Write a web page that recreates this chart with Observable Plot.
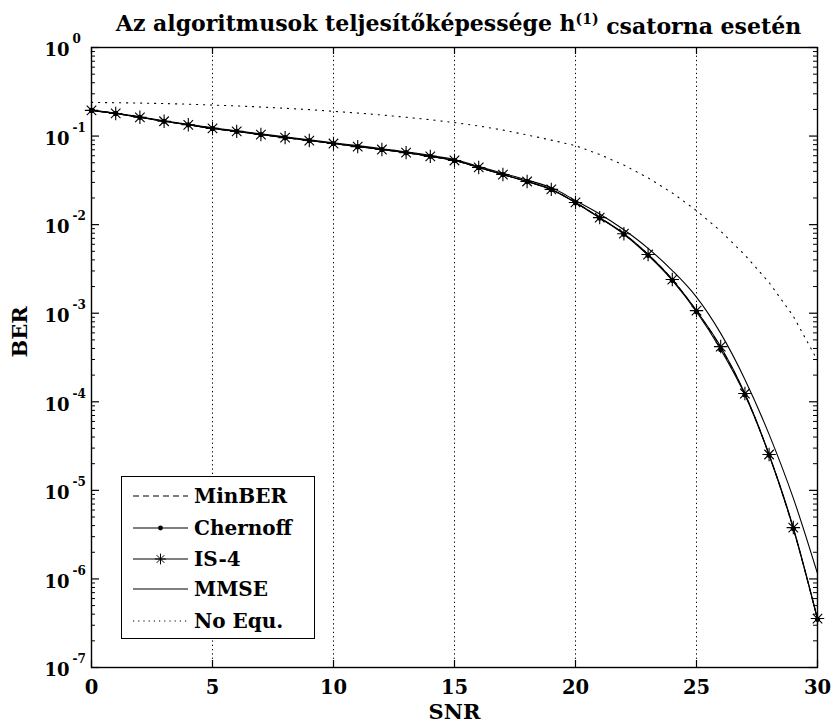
<!DOCTYPE html>
<html><head><meta charset="utf-8">
<script src="https://cdn.jsdelivr.net/npm/d3@7"></script>
<script src="https://cdn.jsdelivr.net/npm/@observablehq/plot@0.6"></script>
<style>
body{margin:0;background:#fff}
#wrap{position:relative;width:835px;height:726px}
svg{overflow:visible}
#legend{position:absolute;left:121px;top:476px;width:192px;height:161px;border:1.3px solid #000;background:#fff;font-family:"DejaVu Serif",serif;font-weight:bold;font-size:20px}
</style>
</head><body><div id="wrap"><div id="chart"></div><div id="legend"></div></div>
<script>
const snr = [0,1,2,3,4,5,6,7,8,9,10,11,12,13,14,15,16,17,18,19,20,21,22,23,24,25,26,27,28,29,30];
const minBER = [0.195,0.18,0.163,0.147,0.134,0.122,0.113,0.104,0.096,0.089,0.0824,0.076,0.0705,0.065,0.059,0.053,0.0442,0.0368,0.0307,0.025,0.0178,0.012,0.0079,0.0046,0.0024,0.00106,0.00041,0.000122,0.0000252,0.0000037,0.00000035];
const chernoff = [0.195,0.18,0.163,0.147,0.134,0.122,0.113,0.104,0.096,0.089,0.0824,0.076,0.0705,0.065,0.059,0.053,0.0442,0.0368,0.0306,0.0249,0.0177,0.0119,0.0078,0.0045,0.00235,0.00104,0.00039,0.00012,0.000025,0.0000037,0.00000035];
const is4 = [0.195,0.18,0.163,0.147,0.134,0.122,0.113,0.104,0.096,0.089,0.0824,0.076,0.0705,0.065,0.059,0.053,0.0442,0.0368,0.0307,0.025,0.0178,0.012,0.0079,0.0046,0.0024,0.00107,0.00042,0.000124,0.0000254,0.0000038,0.000000357];
const mmse = [0.197,0.182,0.165,0.149,0.136,0.124,0.115,0.106,0.098,0.091,0.084,0.078,0.072,0.0665,0.0605,0.0545,0.0455,0.038,0.0318,0.0262,0.0187,0.0132,0.00875,0.0054,0.00303,0.00152,0.000592,0.000179,0.0000429,0.00000817,0.00000115];
const noEqu = [0.24,0.238,0.236,0.233,0.229,0.224,0.219,0.213,0.206,0.199,0.19,0.182,0.173,0.163,0.153,0.142,0.13,0.117,0.103,0.09,0.078,0.0619,0.047,0.0337,0.0228,0.0144,0.00845,0.00454,0.00222,0.000927,0.000293];

const xTicks = [0,5,10,15,20,25,30];
const xGrid = [5,10,15,20,25];
const yMajor = [1,1e-1,1e-2,1e-3,1e-4,1e-5,1e-6,1e-7];
const yExp = ["0","-1","-2","-3","-4","-5","-6","-7"];
const minorMult = [2,3,4,5,6,7,8,9];
const seriesNames = ["MinBER","Chernoff","IS-4","MMSE","No Equ."];
const titleText = "Az algoritmusok teljesítőképessége h(1) csatorna esetén";

const W=835,H=726,mL=91,mR=18,mT=47,mB=59;
const fw=W-mL-mR, fh=H-mT-mB;
const yMinor = yMajor.slice(1).flatMap(p => minorMult.map(m => m*p));
const rows = (arr) => snr.map((s,i)=>({snr:s, ber:arr[i]}));
const F = "DejaVu Serif, serif";

const plot = Plot.plot({
  width:W, height:H, marginLeft:mL, marginRight:mR, marginTop:mT, marginBottom:mB,
  style:{fontFamily:F, background:"#fff"},
  x:{domain:[0,30], axis:null},
  y:{type:"log", domain:[1e-7,1], axis:null},
  marks:[
    Plot.ruleX(xGrid, {stroke:"#000", strokeWidth:1, strokeDasharray:"1.3,3"}),
    Plot.line(rows(noEqu), {x:"snr", y:"ber", stroke:"#000", strokeWidth:1.1, strokeDasharray:"1.2,5.8"}),
    Plot.line(rows(mmse), {x:"snr", y:"ber", stroke:"#000", strokeWidth:1.1, curve:"monotone-x"}),
    Plot.line(rows(minBER), {x:"snr", y:"ber", stroke:"#000", strokeWidth:1.1, strokeDasharray:"6,4", curve:"monotone-x"}),
    Plot.line(rows(chernoff), {x:"snr", y:"ber", stroke:"#000", strokeWidth:1.1, curve:"monotone-x"}),
    Plot.line(rows(is4), {x:"snr", y:"ber", stroke:"#000", strokeWidth:1.1, curve:"monotone-x"}),
    Plot.dot(rows(chernoff), {x:"snr", y:"ber", r:2.6, fill:"#000"}),
    Plot.dot(rows(is4), {x:"snr", y:"ber", symbol:"plus", r:4.4, stroke:"#000", strokeWidth:1.1}),
    Plot.dot(rows(is4), {x:"snr", y:"ber", symbol:"times", r:4.4, stroke:"#000", strokeWidth:1.1}),
    // ticks
    Plot.ruleX(xTicks, {insetTop:fh-7, stroke:"#000", strokeWidth:1.2}),
    Plot.ruleX(xTicks, {insetBottom:fh-7, stroke:"#000", strokeWidth:1.2}),
    Plot.ruleY(yMajor, {insetRight:fw-8, stroke:"#000", strokeWidth:1.2}),
    Plot.ruleY(yMajor, {insetLeft:fw-8, stroke:"#000", strokeWidth:1.2}),
    Plot.ruleY(yMinor, {insetRight:fw-4, stroke:"#000", strokeWidth:1}),
    Plot.ruleY(yMinor, {insetLeft:fw-4, stroke:"#000", strokeWidth:1}),
    Plot.frame({stroke:"#000", strokeWidth:1.4}),
    // tick labels
    Plot.text(xTicks, {x:d=>d, frameAnchor:"bottom", lineAnchor:"middle", dy:20, text:d=>String(d), fontSize:19.5, fontWeight:"bold", fill:"#000"}),
    Plot.text(yMajor, {y:d=>d, frameAnchor:"left", lineAnchor:"middle", dx:-22, dy:3, textAnchor:"end", text:()=>"10", fontSize:18, fontWeight:"bold", fill:"#000"}),
    Plot.text(yMajor, {y:d=>d, frameAnchor:"left", lineAnchor:"middle", dx:-19, dy:-8, textAnchor:"start", text:(d,i)=>yExp[i], fontSize:12, fontWeight:"bold", fill:"#000"}),
    // axis labels
    Plot.text(["SNR"], {frameAnchor:"bottom", lineAnchor:"middle", dy:45, text:d=>d, fontSize:21, fontWeight:"bold", fill:"#000"}),
    Plot.text(["BER"], {frameAnchor:"left", lineAnchor:"middle", dx:-71, rotate:-90, text:d=>d, fontSize:21, fontWeight:"bold", fill:"#000"}),
    Plot.text([titleText], {frameAnchor:"top", lineAnchor:"middle", dy:-24, dx:4, text:d=>d, fontSize:22, fontWeight:"bold", fill:"#000"})
  ]
});
document.getElementById("chart").appendChild(plot);

// superscript in title
d3.select(plot).selectAll("text").each(function(){
  const t = d3.select(this);
  if (t.text() === titleText) {
    t.text(null);
    t.append("tspan").text("Az algoritmusok teljesítőképessége h");
    t.append("tspan").attr("dy","-0.45em").attr("font-size","14px").text("(1)");
    t.append("tspan").attr("dy","0.45em").text(" csatorna esetén");
  }
});

// legend
const lg = d3.select("#legend");
const ls = lg.append("svg").attr("width",192).attr("height",161).style("position","absolute").style("left",0).style("top",0);
const rowY = [19,51,82,112,144];
const styles = [
  {dash:"6,4"}, {dot:true}, {star:true}, {}, {dash:"1.2,4"}
];
seriesNames.forEach((name,i)=>{
  const y = rowY[i];
  ls.append("line").attr("x1",11).attr("x2",66).attr("y1",y).attr("y2",y).attr("stroke","#000").attr("stroke-width",1.1).attr("stroke-dasharray",styles[i].dash||null);
  if (styles[i].dot) ls.append("circle").attr("cx",38.5).attr("cy",y).attr("r",2.4).attr("fill","#000");
  if (styles[i].star) {
    ls.append("path").attr("d",d3.symbol(d3.symbolPlus,40)()).attr("transform",`translate(38.5,${y})`).attr("stroke","#000").attr("fill","none");
    ls.append("path").attr("d",d3.symbol(d3.symbolTimes,40)()).attr("transform",`translate(38.5,${y})`).attr("stroke","#000").attr("fill","none");
  }
  ls.append("text").attr("x",72).attr("y",y).attr("dy","0.35em").attr("font-family",F).attr("font-weight","bold").attr("font-size",20).text(name);
});
</script></body></html>
